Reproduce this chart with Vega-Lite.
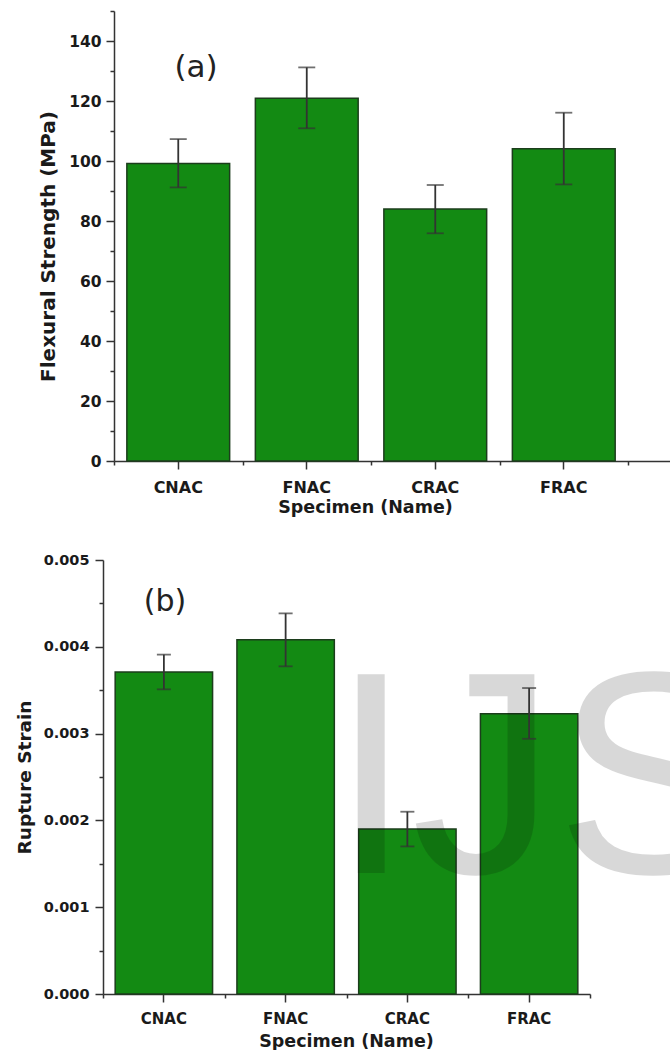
{
  "$schema": "https://vega.github.io/schema/vega-lite/v6.json",
  "padding": {"left": 15, "top": 10, "right": 0, "bottom": 0},
  "spacing": 36,
  "config": {
    "view": {"stroke": null},
    "axis": {
      "domainColor": "#333333", "tickColor": "#333333", "domainWidth": 1.5, "tickWidth": 1.5,
      "labelFont": "DejaVu Sans", "labelFontWeight": "bold", "labelColor": "#1a1a1a",
      "titleFont": "DejaVu Sans", "titleFontWeight": "bold", "titleColor": "#1a1a1a",
      "grid": false, "labelFlush": false, "labelOverlap": false
    }
  },
  "datasets": {
    "flex": [
      {"specimen": "CNAC", "strength": 99.2, "lo": 91.2, "hi": 107.3},
      {"specimen": "FNAC", "strength": 120.9, "lo": 110.9, "hi": 131.2},
      {"specimen": "CRAC", "strength": 84.0, "lo": 75.9, "hi": 92.0},
      {"specimen": "FRAC", "strength": 104.1, "lo": 92.2, "hi": 116.1}
    ],
    "strain": [
      {"specimen": "CNAC", "strain": 0.00371, "lo": 0.00351, "hi": 0.00391},
      {"specimen": "FNAC", "strain": 0.00408, "lo": 0.003775, "hi": 0.004385},
      {"specimen": "CRAC", "strain": 0.0019, "lo": 0.0017, "hi": 0.0021},
      {"specimen": "FRAC", "strain": 0.00323, "lo": 0.00294, "hi": 0.003525}
    ]
  },
  "vconcat": [
    {
      "width": 570, "height": 450,
      "data": {"name": "flex"},
      "resolve": {"axis": {"x": "independent", "y": "independent"}},
      "layer": [
        {
          "mark": {"type": "bar", "width": {"band": 0.8}, "fill": "#138a13", "stroke": "#1c3d1c", "strokeWidth": 1.5},
          "encoding": {
            "x": {"field": "specimen", "type": "nominal",
              "scale": {"domain": ["CNAC", "FNAC", "CRAC", "FRAC"], "range": [11, 570], "paddingInner": 0, "paddingOuter": 0.175, "align": 0},
              "axis": {"orient": "bottom", "title": "Specimen (Name)", "titleX": 262, "labelAngle": 0, "tickSize": 8, "labelPadding": 10, "titlePadding": 3, "labelFontSize": 16, "titleFontSize": 17.5}},
            "y": {"field": "strength", "type": "quantitative",
              "scale": {"domain": [0, 150], "nice": false},
              "axis": {"orient": "left", "title": "Flexural Strength (MPa)", "titleY": 235, "values": [0, 20, 40, 60, 80, 100, 120, 140], "tickSize": 8, "labelPadding": 5, "offset": -11, "titlePadding": 10, "labelFontSize": 15.5, "titleFontSize": 20}}
          }
        },
        {
          "mark": {"type": "rule", "color": "#333333", "strokeWidth": 1.8},
          "encoding": {
            "x": {"field": "specimen", "type": "nominal",
              "axis": {"orient": "bottom", "tickBand": "extent", "labels": false, "title": null, "domain": false, "tickSize": 4}},
            "y": {"field": "lo", "type": "quantitative",
              "axis": {"orient": "left", "values": [10, 30, 50, 70, 90, 110, 130, 150], "labels": false, "title": null, "domain": false, "tickSize": 4, "offset": -11}},
            "y2": {"field": "hi"}
          }
        },
        {
          "mark": {"type": "tick", "color": "#333333", "thickness": 1.8, "size": 17},
          "encoding": {
            "x": {"field": "specimen", "type": "nominal", "axis": null},
            "y": {"field": "lo", "type": "quantitative", "axis": null}
          }
        },
        {
          "mark": {"type": "tick", "color": "#333333", "thickness": 1.8, "size": 17},
          "encoding": {
            "x": {"field": "specimen", "type": "nominal", "axis": null},
            "y": {"field": "hi", "type": "quantitative", "axis": null}
          }
        },
        {
          "data": {"values": [{"label": "(a)"}]},
          "mark": {"type": "text", "font": "DejaVu Sans", "fontSize": 31, "align": "center", "baseline": "middle", "color": "#222222"},
          "encoding": {
            "x": {"datum": "CNAC", "type": "nominal", "bandPosition": 0.638, "axis": null},
            "y": {"datum": 131, "type": "quantitative", "axis": null},
            "text": {"field": "label"}
          }
        }
      ]
    },
    {
      "width": 570, "height": 434,
      "data": {"name": "strain"},
      "resolve": {"axis": {"x": "independent", "y": "independent"}},
      "layer": [
        {
          "mark": {"type": "bar", "width": {"band": 0.8}, "fill": "#138a13", "stroke": "#1c3d1c", "strokeWidth": 1.5},
          "encoding": {
            "x": {"field": "specimen", "type": "nominal",
              "scale": {"domain": ["CNAC", "FNAC", "CRAC", "FRAC"], "range": [0, 487], "paddingInner": 0, "paddingOuter": 0},
              "axis": {"orient": "bottom", "title": "Specimen (Name)", "titleX": 243, "labelAngle": 0, "tickSize": 8, "labelPadding": 9, "titlePadding": 6, "labelFontSize": 15, "titleFontSize": 17.5}},
            "y": {"field": "strain", "type": "quantitative",
              "scale": {"domain": [0, 0.005], "nice": false},
              "axis": {"orient": "left", "title": "Rupture Strain", "values": [0, 0.001, 0.002, 0.003, 0.004, 0.005], "format": ".3f", "tickSize": 8, "labelPadding": 6, "titlePadding": 9, "labelFontSize": 14.5, "titleFontSize": 18.5}}
          }
        },
        {
          "data": {"values": [{"label": "IJSER"}]},
          "mark": {"type": "text", "font": "Liberation Sans", "fontSize": 289, "align": "left", "baseline": "alphabetic", "color": "#000000", "opacity": 0.15, "clip": true},
          "encoding": {
            "x": {"datum": "FNAC", "type": "nominal", "bandPosition": 0.873, "axis": null},
            "y": {"datum": 0.001394, "type": "quantitative", "axis": null},
            "text": {"field": "label"}
          }
        },
        {
          "mark": {"type": "rule", "color": "#333333", "strokeWidth": 1.8},
          "encoding": {
            "x": {"field": "specimen", "type": "nominal",
              "axis": {"orient": "bottom", "tickBand": "extent", "labels": false, "title": null, "domain": false, "tickSize": 4}},
            "y": {"field": "lo", "type": "quantitative",
              "axis": {"orient": "left", "values": [0.0005, 0.0015, 0.0025, 0.0035, 0.0045], "labels": false, "title": null, "domain": false, "tickSize": 4}},
            "y2": {"field": "hi"}
          }
        },
        {
          "mark": {"type": "tick", "color": "#333333", "thickness": 1.8, "size": 14},
          "encoding": {
            "x": {"field": "specimen", "type": "nominal", "axis": null},
            "y": {"field": "lo", "type": "quantitative", "axis": null}
          }
        },
        {
          "mark": {"type": "tick", "color": "#333333", "thickness": 1.8, "size": 14},
          "encoding": {
            "x": {"field": "specimen", "type": "nominal", "axis": null},
            "y": {"field": "hi", "type": "quantitative", "axis": null}
          }
        },
        {
          "data": {"values": [{"label": "(b)"}]},
          "mark": {"type": "text", "font": "DejaVu Sans", "fontSize": 30, "align": "center", "baseline": "middle", "color": "#222222"},
          "encoding": {
            "x": {"datum": "CNAC", "type": "nominal", "bandPosition": 0.509, "axis": null},
            "y": {"datum": 0.004516, "type": "quantitative", "axis": null},
            "text": {"field": "label"}
          }
        }
      ]
    }
  ]
}
